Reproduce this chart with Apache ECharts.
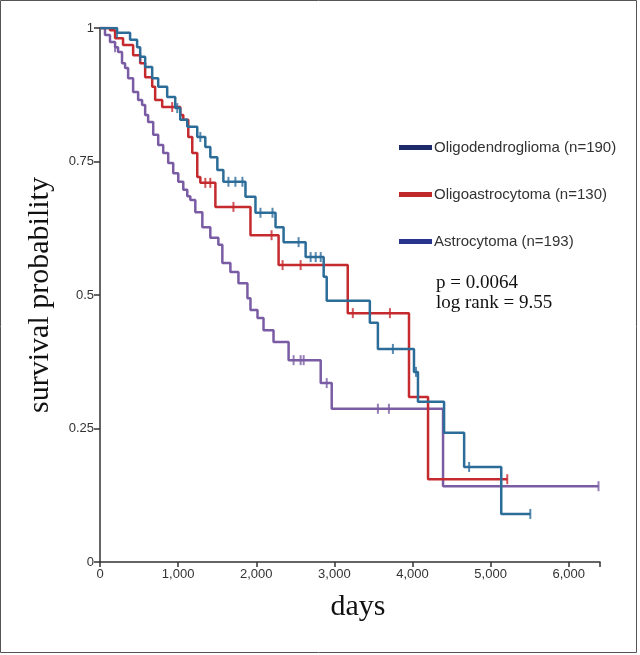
<!DOCTYPE html>
<html><head><meta charset="utf-8">
<script src="https://cdn.jsdelivr.net/npm/echarts@6/dist/echarts.min.js"></script>
<style>html,body{margin:0;padding:0;background:#fff}#c{width:640px;height:655px}</style>
</head><body><div id="c"></div>
<script>
// ---- data ----
const groupNames = ['Oligodendroglioma (n=190)', 'Oligoastrocytoma (n=130)', 'Astrocytoma (n=193)'];

const oligoDays = [0,218,385,475,514,578,668,745,860,963,1027,1117,1245,1348,1412,1502,1579,1862,1990,2247,2350,2632,2863,2902,3454,3557,4019,4070,4404,4661,5136,5508];
const oligoSurv = [1,0.991,0.978,0.964,0.946,0.927,0.906,0.890,0.871,0.850,0.828,0.815,0.796,0.777,0.758,0.734,0.712,0.684,0.654,0.627,0.599,0.571,0.534,0.489,0.448,0.399,0.356,0.300,0.242,0.178,0.090,0.090];
const oligoCensor = [218,514,989,1284,1644,1733,1823,2054,2208,2542,2696,2761,2825,3749,4045,4725,5508];

const oaDays = [0,128,193,295,424,514,578,668,706,796,1027,1066,1130,1181,1245,1284,1477,1926,2286,3171,3955,4199,5213];
const oaSurv = [1,0.996,0.981,0.968,0.949,0.934,0.908,0.890,0.865,0.852,0.837,0.828,0.796,0.766,0.721,0.710,0.665,0.612,0.556,0.466,0.309,0.155,0.155];
const oaCensor = [924,1348,1412,1708,2196,2337,2568,3236,3711,5213];

const astroDays = [0,64,128,193,231,282,321,360,424,488,539,578,616,681,745,809,873,937,1002,1066,1117,1156,1220,1310,1412,1515,1566,1669,1772,1887,1926,2016,2093,2221,2414,2825,2966,4391,6381];
const astroSurv = [1,0.987,0.974,0.964,0.955,0.934,0.925,0.906,0.880,0.865,0.856,0.837,0.824,0.800,0.781,0.766,0.747,0.728,0.712,0.697,0.685,0.678,0.655,0.627,0.607,0.594,0.560,0.543,0.522,0.494,0.472,0.457,0.434,0.412,0.378,0.335,0.287,0.142,0.142];
const astroCensor = [193,2478,2568,2607,2902,3557,3698,6381];

const xTicks = [0,1000,2000,3000,4000,5000,6000];
const yTicks = [0,0.25,0.5,0.75,1];

const lineColors = ['#2c6c98', '#c42a2e', '#7a5ca4'];
const legendColors = ['#1d2b68', '#c0282a', '#28358c'];

// ---- helpers ----
function pairs(d, s) { return d.map((v, i) => [v, s[i]]); }
function survAt(d, s, t) { let v = s[0]; for (let i = 0; i < d.length; i++) { if (d[i] <= t) v = s[i]; } return v; }
function censorPts(d, s, c) { return c.map(t => [t, survAt(d, s, t)]); }
function fmtThousands(v) { return String(v).replace(/\B(?=(\d{3})+(?!\d))/g, ','); }

const groups = [
  [oligoDays, oligoSurv, oligoCensor],
  [oaDays, oaSurv, oaCensor],
  [astroDays, astroSurv, astroCensor]
];

const series = [];
groups.forEach((g, i) => {
  series.push({
    name: groupNames[i], type: 'line', step: 'end', showSymbol: false, silent: true,
    data: pairs(g[0], g[1]),
    lineStyle: { color: lineColors[i], width: 2.5 },
    itemStyle: { color: legendColors[i] },
    z: 3 - i
  });
});
groups.forEach((g, i) => {
  series.push({
    name: groupNames[i] + ' censored', type: 'scatter', silent: true,
    data: censorPts(g[0], g[1], g[2]),
    symbol: 'rect', symbolSize: [2, 10],
    itemStyle: { color: lineColors[i] },
    z: 4
  });
});

const chart = echarts.init(document.getElementById('c'), null, { renderer: 'canvas' });
chart.setOption({
  animation: false,
  backgroundColor: '#fff',
  grid: { left: 100, right: 40, top: 28, bottom: 93 },
  xAxis: {
    type: 'value', min: 0, max: 6400, interval: 1000,
    axisLine: { show: true, lineStyle: { color: '#333', width: 1.5 } },
    axisTick: { show: true, length: 5, lineStyle: { color: '#333', width: 1.5 } },
    splitLine: { show: false },
    axisLabel: {
      margin: 6, fontSize: 13, color: '#333', fontFamily: 'Liberation Sans',
      formatter: v => xTicks.includes(v) ? fmtThousands(v) : ''
    }
  },
  yAxis: {
    type: 'value', min: 0, max: 1, interval: 0.25,
    axisLine: { show: true, lineStyle: { color: '#333', width: 1.5 } },
    axisTick: { show: true, length: 6, lineStyle: { color: '#333', width: 1.5 } },
    splitLine: { show: false },
    axisLabel: {
      margin: 6, fontSize: 13, color: '#333', fontFamily: 'Liberation Sans',
      formatter: v => yTicks.includes(v) ? String(v) : ''
    }
  },
  legend: {
    orient: 'vertical', left: 394, top: 134, itemGap: 30,
    itemWidth: 33, itemHeight: 5, icon: 'rect',
    selectedMode: false,
    textStyle: { fontSize: 15, color: '#333', fontFamily: 'Liberation Sans', lineHeight: 17, padding: [0, 0, 0, -3] },
    data: groupNames.map((n, i) => ({ name: n, itemStyle: { color: legendColors[i] } }))
  },
  graphic: [
    { type: 'rect', silent: true, shape: { x: 0.5, y: 0.5, width: 636, height: 652 }, style: { fill: 'none', stroke: '#555', lineWidth: 1 } },
    { type: 'text', silent: true, x: 40, y: 295, rotation: Math.PI / 2,
      style: { text: 'survival probability', font: '30px "Liberation Serif"', fill: '#111', align: 'center', verticalAlign: 'middle' } },
    { type: 'text', silent: true, x: 358, y: 607,
      style: { text: 'days', font: '30px "Liberation Serif"', fill: '#111', align: 'center', verticalAlign: 'middle' } },
    { type: 'text', silent: true, x: 436, y: 283,
      style: { text: 'p = 0.0064', font: '19px "Liberation Serif"', fill: '#111', align: 'left', verticalAlign: 'middle' } },
    { type: 'text', silent: true, x: 436, y: 303,
      style: { text: 'log rank = 9.55', font: '19px "Liberation Serif"', fill: '#111', align: 'left', verticalAlign: 'middle' } }
  ],
  series: series
});
</script>
</body></html>
